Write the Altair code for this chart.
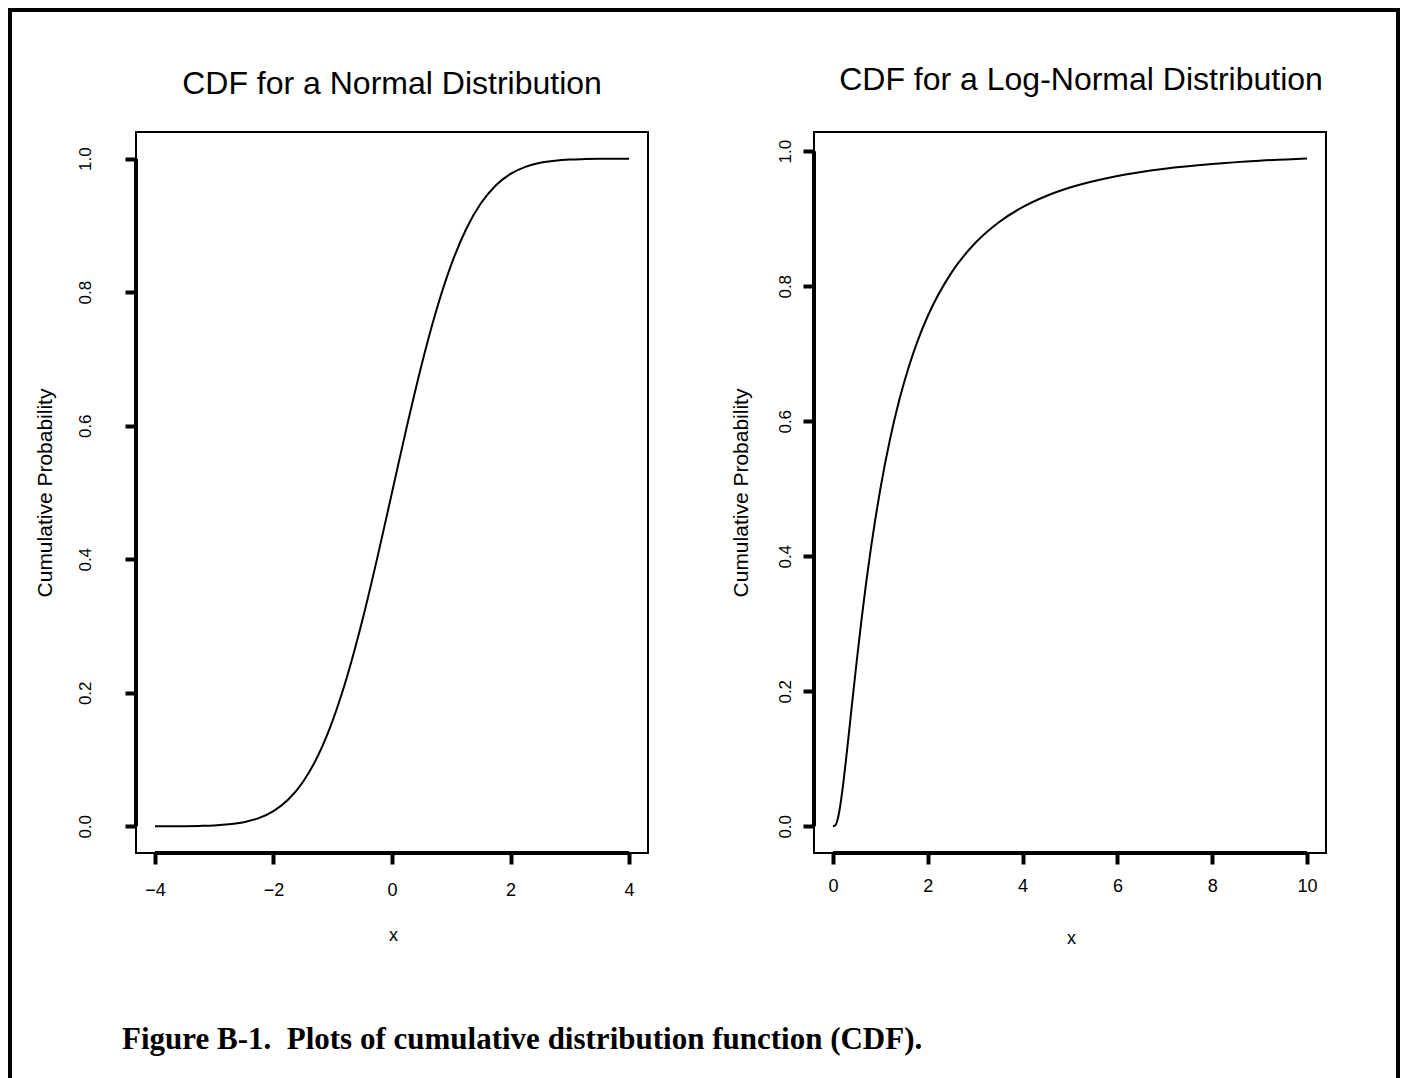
import altair as alt
import pandas as pd

# ---- data ----
normal_x = [-4, -3.75, -3.5, -3.25, -3, -2.75, -2.5, -2.25, -2, -1.75, -1.5, -1.25, -1,
            -0.75, -0.5, -0.25, 0, 0.25, 0.5, 0.75, 1, 1.25, 1.5, 1.75, 2, 2.25, 2.5,
            2.75, 3, 3.25, 3.5, 3.75, 4]
normal_p = [0.0000, 0.0001, 0.0002, 0.0006, 0.0013, 0.0030, 0.0062, 0.0122, 0.0228,
            0.0401, 0.0668, 0.1056, 0.1587, 0.2266, 0.3085, 0.4013, 0.5000, 0.5987,
            0.6915, 0.7734, 0.8413, 0.8944, 0.9332, 0.9599, 0.9772, 0.9878, 0.9938,
            0.9970, 0.9987, 0.9994, 0.9998, 0.9999, 1.0000]

lognorm_x = [0, 0.05, 0.1, 0.15, 0.2, 0.3, 0.4, 0.5, 0.6, 0.7, 0.8, 0.9, 1.0, 1.2, 1.4,
             1.6, 1.8, 2.0, 2.5, 3, 3.5, 4, 4.5, 5, 6, 7, 8, 9, 10]
lognorm_p = [0.0, 0.0014, 0.0107, 0.0289, 0.0538, 0.1143, 0.1798, 0.2441, 0.3047,
             0.3606, 0.4117, 0.4580, 0.5000, 0.5723, 0.6317, 0.6808, 0.7217, 0.7559,
             0.8202, 0.8640, 0.8949, 0.9172, 0.9337, 0.9462, 0.9634, 0.9742, 0.9812,
             0.9860, 0.9893]

normal_xticks = [-4, -2, 0, 2, 4]
lognorm_xticks = [0, 2, 4, 6, 8, 10]
prob_ticks = [0.0, 0.2, 0.4, 0.6, 0.8, 1.0]

title_left = "CDF for a Normal Distribution"
title_right = "CDF for a Log-Normal Distribution"
y_title = "Cumulative Probability"
x_title = "x"
caption = "Figure B-1.\u00a0 Plots of cumulative distribution function (CDF)."

# ---- layout ----
W, H = 1388, 1070
L_XDOM = [-4.32, 4.32]
L_YDOM = [-0.04, 1.04]
R_XDOM = [-0.4, 10.4]
R_YDOM = [-0.0396, 1.0285]
L_XRANGE = [126, 638]
R_XRANGE = [804, 1316]
YRANGE = [843, 122]

SANS = "Liberation Sans"


def panel(xs_vals, ys_vals, xdom, ydom, xrange, xticks, xlab_pad, ylab_pad,
          ytitle_x, xtitle_x, xtitle_y):
    xscale = alt.Scale(domain=xdom, range=xrange, nice=False, zero=False)
    yscale = alt.Scale(domain=ydom, range=YRANGE, nice=False, zero=False)
    xaxis = alt.Axis(orient="bottom", offset=YRANGE[0] - H, values=xticks, format="d",
                     domain=False, grid=False, tickSize=11, tickWidth=4, tickColor="black",
                     labelFont=SANS, labelFontSize=18, labelColor="black",
                     labelPadding=xlab_pad, labelBaseline="middle", labelFlush=False,
                     title=x_title, titleFont=SANS, titleFontSize=18,
                     titleFontWeight="normal", titleColor="black", titleX=xtitle_x,
                     titleY=xtitle_y, titleAlign="center", titleBaseline="middle")
    yaxis = alt.Axis(orient="left", offset=-xrange[0], values=prob_ticks, format=".1f",
                     domain=False, grid=False, tickSize=11, tickWidth=4, tickColor="black",
                     labelFont=SANS, labelFontSize=17, labelColor="black", labelAngle=270,
                     labelAlign="center", labelBaseline="middle", labelPadding=ylab_pad,
                     labelFlush=False,
                     title=y_title, titleFont=SANS, titleFontSize=21,
                     titleFontWeight="normal", titleColor="black", titleAngle=270,
                     titleX=ytitle_x, titleY=(YRANGE[0] + YRANGE[1]) / 2,
                     titleAlign="center", titleBaseline="middle")

    frame_df = pd.DataFrame({"x0": [xdom[0]], "x1": [xdom[1]],
                             "y0": [ydom[0]], "y1": [ydom[1]]})
    frame = alt.Chart(frame_df).mark_rect(filled=False, stroke="black", strokeWidth=2).encode(
        x=alt.X("x0:Q", scale=xscale, axis=xaxis),
        x2="x1:Q",
        y=alt.Y("y0:Q", scale=yscale, axis=yaxis),
        y2="y1:Q",
    )
    rules_df = pd.DataFrame({
        "x0": [xdom[0], xticks[0]],
        "x1": [xdom[0], xticks[-1]],
        "y0": [prob_ticks[0], ydom[0]],
        "y1": [prob_ticks[-1], ydom[0]],
    })
    rules = alt.Chart(rules_df).mark_rule(color="black", strokeWidth=4).encode(
        x=alt.X("x0:Q", scale=xscale, axis=xaxis),
        x2="x1:Q",
        y=alt.Y("y0:Q", scale=yscale, axis=yaxis),
        y2="y1:Q",
    )
    curve_df = pd.DataFrame({"x": xs_vals, "p": ys_vals})
    curve = alt.Chart(curve_df).mark_line(color="black", strokeWidth=2,
                                          interpolate="monotone").encode(
        x=alt.X("x:Q", scale=xscale, axis=xaxis),
        y=alt.Y("p:Q", scale=yscale, axis=yaxis),
    )
    return alt.layer(frame, rules, curve)


left = panel(normal_x, normal_p, L_XDOM, L_YDOM, L_XRANGE, normal_xticks,
             xlab_pad=26, ylab_pad=40, ytitle_x=-91, xtitle_x=383, xtitle_y=82)
right = panel(lognorm_x, lognorm_p, R_XDOM, R_YDOM, R_XRANGE, lognorm_xticks,
              xlab_pad=22, ylab_pad=18, ytitle_x=-73, xtitle_x=1061, xtitle_y=85)


def text_layer(txt, x, y, size, font, weight="normal", align="center"):
    return alt.Chart(pd.DataFrame({"t": [txt]})).mark_text(
        font=font, fontSize=size, fontWeight=weight, align=align, baseline="middle",
        color="black").encode(x=alt.value(x), y=alt.value(y), text="t:N")


t_left = text_layer(title_left, 382, 74, 32, SANS)
t_right = text_layer(title_right, 1071, 70, 32, SANS)
t_caption = text_layer(caption, 112, 1030, 31, "Liberation Serif", weight="bold",
                       align="left")

chart = alt.layer(left, right, t_left, t_right, t_caption).resolve_scale(
    x="independent", y="independent"
).properties(
    width=W, height=H,
    autosize=alt.AutoSizeParams(type="none"),
    padding={"left": 2, "top": 2, "right": 2, "bottom": 0},
    background="white",
).configure_view(stroke="black", strokeWidth=4)

chart.save("out.html", embed_options={"renderer": "svg", "actions": False})
